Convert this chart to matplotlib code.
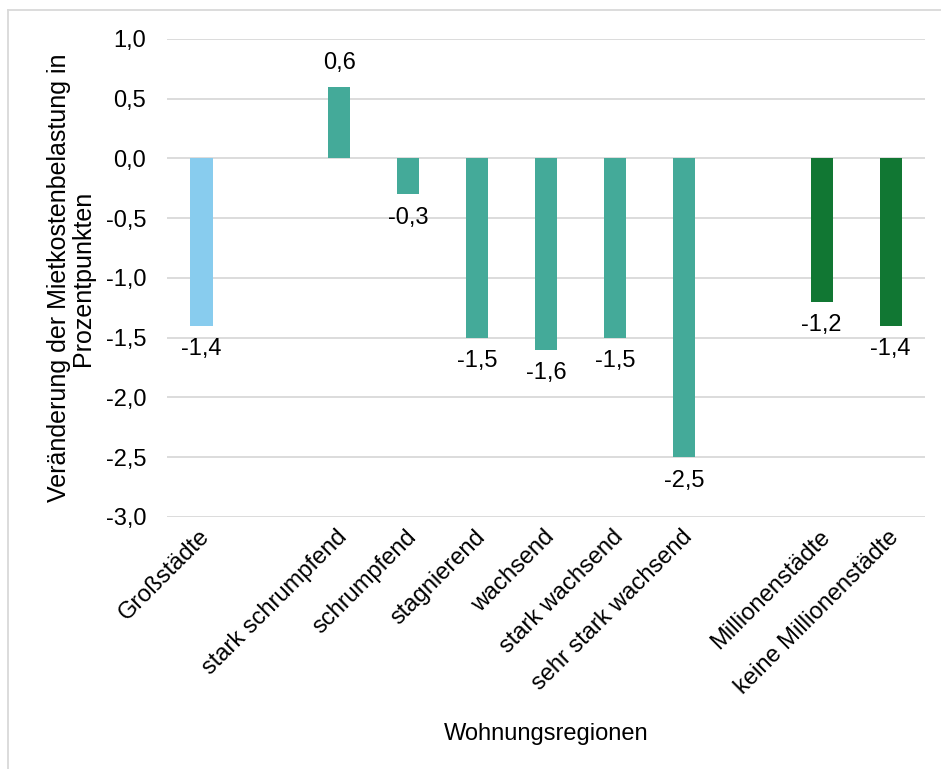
import matplotlib
matplotlib.use("Agg")
import matplotlib.pyplot as plt
from matplotlib.lines import Line2D
from matplotlib.transforms import ScaledTranslation

plt.rcParams['font.family'] = ['Liberation Sans', 'DejaVu Sans']

categories = ["Großstädte", "", "stark schrumpfend", "schrumpfend", "stagnierend",
              "wachsend", "stark wachsend", "sehr stark wachsend", "",
              "Millionenstädte", "keine Millionenstädte"]
values = [-1.4, None, 0.6, -0.3, -1.5, -1.6, -1.5, -2.5, None, -1.2, -1.4]
groups = ["gross", None, "dyn", "dyn", "dyn", "dyn", "dyn", "dyn", None, "mio", "mio"]
group_colors = {"gross": "#88CCEE", "dyn": "#44AA99", "mio": "#117733"}
yticks = [1.0, 0.5, 0.0, -0.5, -1.0, -1.5, -2.0, -2.5, -3.0]

FS = 17

fig = plt.figure(figsize=(9.41, 7.69), dpi=100)
ax = fig.add_axes([0.1775, 0.3277, 0.9830 - 0.1775, 0.9493 - 0.3277])

for i, (v, g) in enumerate(zip(values, groups)):
    if v is None:
        continue
    ax.bar(i, v, width=0.32, color=group_colors[g], zorder=3)
    off = 9 if v > 0 else -9
    ax.annotate(f"{v:.1f}".replace(".", ","), (i, v), xytext=(0, off),
                textcoords="offset points", ha="center",
                va="bottom" if v > 0 else "top", fontsize=FS, color="#000000")

ax.set_xlim(-0.5, len(categories) - 0.5)
ax.set_ylim(-3.0, 1.0)
ax.set_yticks(yticks)
ax.set_yticklabels([f"{t:.1f}".replace(".", ",") for t in yticks], fontsize=FS)
ax.yaxis.grid(True, color="#D9D9D9", linewidth=1.3, zorder=0)
ax.set_axisbelow(True)
ax.tick_params(axis="y", length=0, pad=15)
ax.tick_params(axis="x", length=0)
for s in ax.spines.values():
    s.set_visible(False)

ax.set_xticks(range(len(categories)))
ax.set_xticklabels(categories, rotation=45, ha="right", va="top",
                   rotation_mode="anchor", fontsize=FS)
for lbl in ax.get_xticklabels():
    lbl.set_transform(lbl.get_transform() + ScaledTranslation(-3/100, -4/100, fig.dpi_scale_trans))

ax.set_xlabel("Wohnungsregionen", fontsize=FS, labelpad=18)
ax.set_ylabel("Veränderung der Mietkostenbelastung in\nProzentpunkten", fontsize=18,
              labelpad=8, linespacing=1.0)

fig.add_artist(Line2D([8/941, 8/941], [0, 1 - 10/769], transform=fig.transFigure,
                      color="#D9D9D9", linewidth=1.3))
fig.add_artist(Line2D([8/941, 1], [1 - 10/769, 1 - 10/769], transform=fig.transFigure,
                      color="#D9D9D9", linewidth=1.3))

fig.savefig("out.png", dpi=100)
